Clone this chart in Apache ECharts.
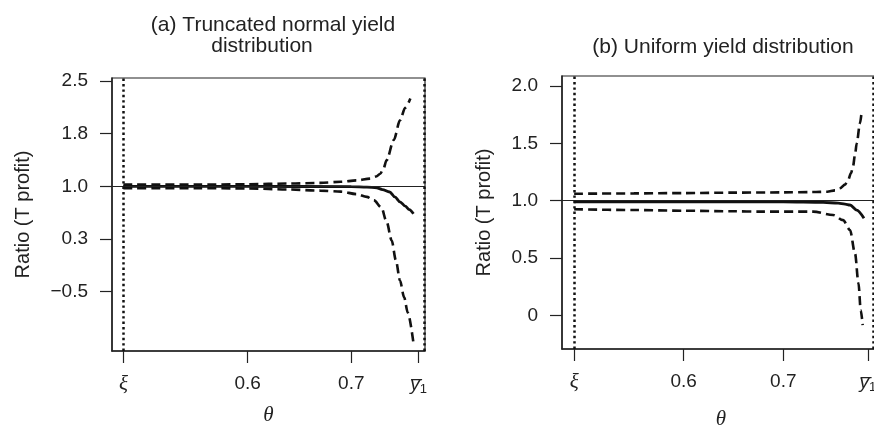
<!DOCTYPE html>
<html>
<head>
<meta charset="utf-8">
<script src="https://cdn.jsdelivr.net/npm/echarts@6/dist/echarts.min.js"></script>
<style>
  html, body { margin: 0; padding: 0; background: #fff; }
  #chart { width: 874px; height: 427px; }
</style>
</head>
<body>
<div id="chart"></div>
<script>
// (a) truncated normal yield distribution
const thetaUpA = [0.48, 0.55, 0.60, 0.64, 0.67, 0.69, 0.705, 0.718, 0.724, 0.728, 0.731, 0.734, 0.741, 0.747, 0.752, 0.757];
const upperA   = [1.025, 1.025, 1.03, 1.04, 1.05, 1.065, 1.085, 1.11, 1.14, 1.18, 1.25, 1.37, 1.66, 1.94, 2.12, 2.25];
const thetaLoA = [0.48, 0.55, 0.60, 0.64, 0.67, 0.69, 0.705, 0.715, 0.722, 0.729, 0.734, 0.739, 0.743, 0.747, 0.751, 0.7545, 0.7598];
const lowerA   = [0.975, 0.975, 0.97, 0.955, 0.94, 0.925, 0.89, 0.85, 0.8, 0.7, 0.5, 0.23, -0.05, -0.34, -0.58, -0.8, -1.21];
const thetaMidA = [0.48, 0.60, 0.70, 0.715, 0.7245, 0.73, 0.737, 0.742, 0.747, 0.752, 0.756, 0.76];
const ratioA    = [1.0, 1.0, 0.997, 0.99, 0.98, 0.955, 0.92, 0.85, 0.78, 0.72, 0.67, 0.61];
const xiA = 0.48, ybarA = 0.765;
const yTicksA  = [-0.5, 0.25, 1.0, 1.75, 2.5];
const yLabelsA = ['\u22120.5', '0.3', '1.0', '1.8', '2.5'];

// (b) uniform yield distribution
const thetaUpB = [0.49, 0.55, 0.60, 0.65, 0.70, 0.73, 0.744, 0.752, 0.757, 0.762, 0.765, 0.768, 0.770, 0.772, 0.7737, 0.777, 0.7787];
const upperB   = [1.06, 1.063, 1.066, 1.07, 1.072, 1.075, 1.078, 1.09, 1.108, 1.14, 1.18, 1.24, 1.30, 1.40, 1.50, 1.675, 1.78];
const thetaLoB = [0.49, 0.55, 0.60, 0.65, 0.677, 0.73, 0.75, 0.76, 0.767, 0.772, 0.7755, 0.7777, 0.7797];
const lowerB   = [0.925, 0.918, 0.912, 0.907, 0.904, 0.904, 0.875, 0.83, 0.744, 0.54, 0.28, 0.046, -0.085];
const thetaMidB = [0.49, 0.60, 0.70, 0.74, 0.755, 0.762, 0.767, 0.7737, 0.781];
const ratioB    = [0.99, 0.99, 0.99, 0.985, 0.978, 0.97, 0.962, 0.918, 0.846];
const xiB = 0.49, ybarB = 0.785;
const yTicksB  = [0, 0.5, 1.0, 1.5, 2.0];
const yLabelsB = ['0', '0.5', '1.0', '1.5', '2.0'];

const xLabelText = ['{g|\u03be}', '0.6', '0.7', '{yb|y\u0305}{sub|1}'];

const ink = '#222';
const zip = (xs, ys) => xs.map((x, i) => [x, ys[i]]);
const pick = (ticks, labels) => v => {
    const i = ticks.findIndex(t => Math.abs(t - v) < 1e-6);
    return i < 0 ? '' : labels[i];
};

function makeX(gi, min, max, xi, ybar, gap) {
    const ticks = [xi, 0.6, 0.7, ybar];
    return {
        type: 'value', gridIndex: gi, min: min, max: max,
        axisLine: { show: true, onZero: false, lineStyle: { color: ink, width: 1.5 } },
        splitLine: { show: false },
        axisTick: { show: true, customValues: ticks, length: 12, lineStyle: { color: ink, width: 1.2 } },
        axisLabel: {
            customValues: ticks, margin: 23, fontSize: 19, color: ink, fontFamily: 'Liberation Sans',
            formatter: pick(ticks, xLabelText),
            rich: {
                g: { fontFamily: 'Liberation Serif', fontStyle: 'italic', fontSize: 21, color: ink },
                yb: { fontFamily: 'Liberation Sans', fontStyle: 'italic', fontSize: 19, color: ink, lineHeight: 22 },
                sub: { fontFamily: 'Liberation Sans', fontSize: 13, color: ink, verticalAlign: 'bottom', lineHeight: 12 }
            }
        },
        name: '\u03b8', nameLocation: 'middle', nameGap: gap,
        nameTextStyle: { fontFamily: 'Liberation Serif', fontStyle: 'italic', fontSize: 21, color: ink }
    };
}

function makeY(gi, min, max, ticks, labels, gap) {
    return {
        type: 'value', gridIndex: gi, min: min, max: max,
        axisLine: { show: true, onZero: false, lineStyle: { color: ink, width: 1.5 } },
        splitLine: { show: false },
        axisTick: { show: true, customValues: ticks, length: 12, lineStyle: { color: ink, width: 1.2 } },
        axisLabel: {
            customValues: ticks, margin: 24, fontSize: 19, color: ink, fontFamily: 'Liberation Sans',
            formatter: pick(ticks, labels)
        },
        name: 'Ratio (T profit)', nameLocation: 'middle', nameGap: gap, nameRotate: 90,
        nameTextStyle: { fontSize: 20, color: ink, fontFamily: 'Liberation Sans' }
    };
}

function guides(xi, ybar) {
    const dotted = { color: '#111', width: 2.5, type: [2.4, 3] };
    return {
        silent: true, symbol: ['none', 'none'], label: { show: false }, animation: false,
        data: [
            { yAxis: 1, lineStyle: { color: ink, width: 1, type: 'solid' } },
            { xAxis: xi, lineStyle: dotted },
            { xAxis: ybar, lineStyle: dotted }
        ]
    };
}

function curve(gi, data, dashed, extra) {
    return Object.assign({
        type: 'line', xAxisIndex: gi, yAxisIndex: gi, data: data,
        symbol: 'none', smooth: 0.3, smoothMonotone: 'x',
        lineStyle: dashed ? { color: '#111', width: 2.6, type: [9, 5] } : { color: '#111', width: 2.8 },
        z: dashed ? 3 : 4
    }, extra || {});
}

const chart = echarts.init(document.getElementById('chart'), null, { renderer: 'canvas' });
chart.setOption({
    animation: false,
    backgroundColor: '#fff',
    title: [
        { text: '(a) Truncated normal yield', left: 268, top: 10, textAlign: 'center',
          textStyle: { fontSize: 21, fontWeight: 'normal', color: ink, fontFamily: 'Liberation Sans' } },
        { text: 'distribution', left: 257, top: 31, textAlign: 'center',
          textStyle: { fontSize: 21, fontWeight: 'normal', color: ink, fontFamily: 'Liberation Sans' } },
        { text: '(b) Uniform yield distribution', left: 718, top: 32, textAlign: 'center',
          textStyle: { fontSize: 21, fontWeight: 'normal', color: ink, fontFamily: 'Liberation Sans' } }
    ],
    grid: [
        { left: 112, top: 78, width: 313, height: 273, show: true, borderColor: ink, borderWidth: 1.2,
          outerBoundsMode: 'none', containLabel: false },
        { left: 562, top: 76, width: 318, height: 273, show: true, borderColor: ink, borderWidth: 1.2,
          outerBoundsMode: 'none', containLabel: false }
    ],
    xAxis: [
        makeX(0, 0.46902, 0.77114, xiA, ybarA, 54),
        makeX(1, 0.47781, 0.79709, xiB, ybarB, 60)
    ],
    yAxis: [
        makeY(0, -1.344, 2.543, yTicksA, yLabelsA, 79),
        makeY(1, -0.294, 2.0872, yTicksB, yLabelsB, 68)
    ],
    series: [
        curve(0, zip(thetaMidA, ratioA), false, { markLine: guides(xiA, ybarA) }),
        curve(0, zip(thetaUpA, upperA), true),
        curve(0, zip(thetaLoA, lowerA), true),
        curve(1, zip(thetaMidB, ratioB), false, { markLine: guides(xiB, ybarB) }),
        curve(1, zip(thetaUpB, upperB), true),
        curve(1, zip(thetaLoB, lowerB), true)
    ]
});
</script>
</body>
</html>
